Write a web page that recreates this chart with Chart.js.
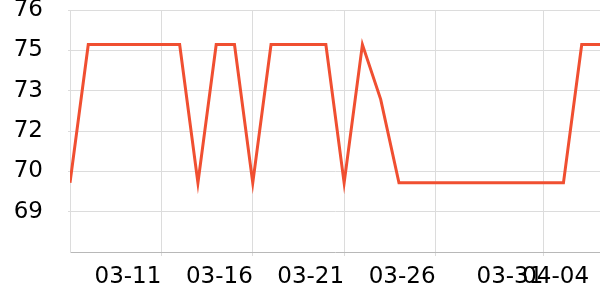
<!DOCTYPE html>
<html>
<head>
<meta charset="utf-8">
<script src="https://cdn.jsdelivr.net/npm/chart.js@4.4.0/dist/chart.umd.min.js"></script>
<style>
  html, body { margin: 0; padding: 0; background: #fff; }
  #wrap { width: 600px; height: 300px; }
</style>
</head>
<body>
<div id="wrap"><canvas id="chart" width="600" height="300"></canvas></div>
<script>
// daily readings, 03-06 .. 04-04
const dates = [
  '03-06', '03-07', '03-08', '03-09', '03-10', '03-11', '03-12', '03-13', '03-14', '03-15',
  '03-16', '03-17', '03-18', '03-19', '03-20', '03-21', '03-22', '03-23', '03-24', '03-25',
  '03-26', '03-27', '03-28', '03-29', '03-30', '03-31', '04-01', '04-02', '04-03', '04-04'
];
const values = [
  70.0, 74.8, 74.8, 74.8, 74.8, 74.8, 74.8, 70.0, 74.8, 74.8,
  70.0, 74.8, 74.8, 74.8, 74.8, 70.0, 74.8, 72.9, 70.0, 70.0,
  70.0, 70.0, 70.0, 70.0, 70.0, 70.0, 70.0, 70.0, 74.8, 74.8
];

// axis ticks (x in days from the first date)
const xTickValues = [5, 10, 15, 20, 25.9, 28.4];
const xTickLabels = ['03-11', '03-16', '03-21', '03-26', '03-31', '04-04'];
const yTickValues = [69.0, 70.4, 71.8, 73.2, 74.6, 76.0];
const yMin = 67.6;
const yMax = 76.0;

const points = values.map((v, i) => ({ x: i, y: v }));

Chart.defaults.font.family = '"DejaVu Sans", sans-serif';
Chart.defaults.font.size = 23;
Chart.defaults.color = '#000';

const ctx = document.getElementById('chart').getContext('2d');
new Chart(ctx, {
  type: 'line',
  data: {
    labels: dates,
    datasets: [{
      data: points,
      borderColor: '#f04f31',
      borderWidth: 3,
      pointRadius: 0,
      tension: 0,
      fill: false
    }]
  },
  options: {
    responsive: false,
    animation: false,
    layout: { padding: { top: 10, left: 0, right: 0, bottom: 0 } },
    plugins: {
      legend: { display: false },
      tooltip: { enabled: false }
    },
    scales: {
      x: {
        type: 'linear',
        min: 0,
        max: dates.length - 1,
        afterBuildTicks: scale => {
          scale.ticks = xTickValues.map(v => ({ value: v }));
        },
        afterFit: scale => { scale.height = 48; },
        grid: {
          color: c => (c.tick && c.tick.value === 28.4) ? 'rgba(0,0,0,0)' : '#dcdcdc',
          tickLength: 4
        },
        border: { color: '#b8b8b8' },
        ticks: {
          autoSkip: false,
          maxRotation: 0,
          minRotation: 0,
          align: 'end',
          padding: 7,
          callback: (val, i) => xTickLabels[i]
        }
      },
      y: {
        min: yMin,
        max: yMax,
        afterBuildTicks: scale => {
          scale.ticks = yTickValues.map(v => ({ value: v }));
        },
        afterFit: scale => {
          scale.width = 70;
          scale.paddingTop = 0;
          scale.paddingBottom = 0;
        },
        grid: { color: '#dcdcdc', tickLength: 2 },
        border: { color: '#dcdcdc' },
        ticks: {
          padding: 25,
          callback: val => String(Math.round(val))
        }
      }
    }
  }
});
</script>
</body>
</html>
